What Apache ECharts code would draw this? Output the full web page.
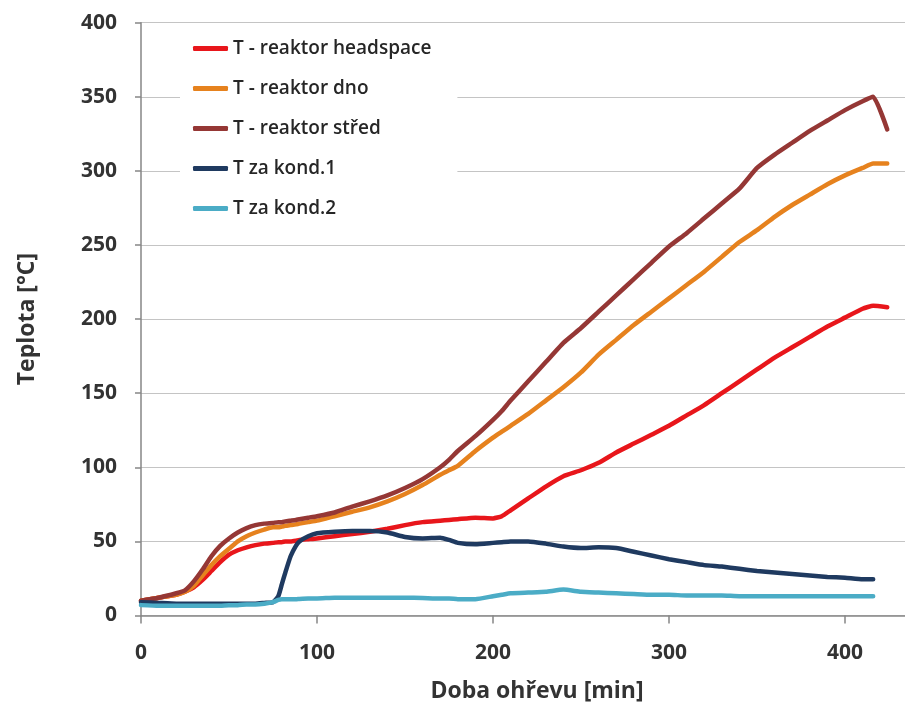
<!DOCTYPE html>
<html>
<head>
<meta charset="utf-8">
<script src="https://cdn.jsdelivr.net/npm/echarts@6/dist/echarts.min.js"></script>
<style>
  html, body { margin: 0; padding: 0; background: #fff; overflow: hidden; width: 905px; height: 712px; }
  #chart { width: 933px; height: 712px; }
</style>
</head>
<body>
<div id="chart"></div>
<script>
// Time axis (min)
const time = [0,10,20,25,30,35,40,45,50,55, 60,65,70,75,78,80,82,85,88,90, 95,100,110,120,130,140,150,160,170,175, 180,190,200,205,210,220,230,240,250,260, 270,280,290,300,310,320,330,340,350,360, 370,380,390,400,410,416,424];

const seriesNames = ['T - reaktor headspace', 'T - reaktor dno', 'T - reaktor střed', 'T za kond.1', 'T za kond.2'];

const headspace = [10,12,14,16,19,24,30,36,41,44, 46,47.5,48.5,49,49.5,49.5,50,50,50.5,51, 51.5,52,53.5,55,56.5,58.5,61,63,64,64.5, 65,66,65.5,67,71,79,87,94,98,103, 110,116,122,128,135,142,150,158,166,174, 181,188,195,201,207,209,208];

const dno = [10,12,14,16,20,27,34,40,45,50, 53.5,56,58,59.5,59.5,60,60.5,61,61.5,62, 63,64,67,70,73,77,82,88,95,98, 101,111,120,124,128,136,145,154,164,176, 186,196,205,214,223,232,242,252,260,269, 277,284,291,297,302,305,305];

const stred = [10,12,15,17,23,31,40,47,52,56, 59,61,62,62.5,63,63,63.5,64,64.5,65, 66,67,69.5,73.5,77,81,86,92,100,105, 111,121,132,138,145,158,171,184,194,205, 216,227,238,249,258,268,278,288,302,311, 319,327,334,341,347,350,328];

const kond1 = [9,8.5,8,8,8,8,8,8,8,8, 8,8,8.5,9,13,21,29,40,47,50, 53.5,55.5,56.5,57,57,56,53,52,52.5,51, 49,48,49,49.5,50,50,48.5,46.5,45.5,46, 45.5,43,40.5,38,36,34,33,31.5,30,29, 28,27,26,25.5,24.5,24.5,null];

const kond2 = [7,6.5,6.5,6.5,6.5,6.5,6.5,6.5,7,7, 7.5,7.5,8,9,10.5,11,11,11,11,11.2, 11.5,11.5,12,12,12,12,12,11.8,11.5,11.5, 11,11,13,14,15,15.5,16,17.5,16,15.5, 15,14.5,14,14,13.5,13.5,13.5,13,13,13, 13,13,13,13,13,13,null];

const xTicks = [0, 100, 200, 300, 400];
const yTicks = [0, 50, 100, 150, 200, 250, 300, 350, 400];

const colors = ['#E8161B', '#E6821E', '#953735', '#1F3A60', '#4BACC6'];
const allValues = [headspace, dno, stred, kond1, kond2];

function pairs(vals) {
  const out = [];
  for (let i = 0; i < time.length; i++) {
    if (vals[i] !== null && vals[i] !== undefined) out.push([time[i], vals[i]]);
  }
  return out;
}

const font = '"Open Sans", "DejaVu Sans", sans-serif';
const chart = echarts.init(document.getElementById('chart'), null, { renderer: 'canvas' });

chart.setOption({
  animation: false,
  backgroundColor: '#ffffff',
  grid: { left: 141, top: 22.7, right: 0, bottom: 96.5, containLabel: false },
  legend: {
    orient: 'vertical',
    left: 180,
    top: 29,
    backgroundColor: '#ffffff',
    padding: [10, 26, 10, 13],
    itemGap: 21,
    itemWidth: 35,
    itemHeight: 5,
    textStyle: { fontFamily: font, fontWeight: 600, fontSize: 19, color: '#262626' },
    data: seriesNames.map(n => ({ name: n, icon: 'roundRect' }))
  },
  xAxis: {
    type: 'value',
    min: 0,
    max: 450,
    interval: 100,
    name: 'Doba ohřevu [min]',
    nameLocation: 'middle',
    nameGap: 64,
    nameTextStyle: { fontFamily: font, fontWeight: 'bold', fontSize: 23, color: '#333333' },
    axisLine: { show: true, lineStyle: { color: '#868686', width: 1.5 } },
    axisTick: { show: true, inside: false, length: 8, lineStyle: { color: '#868686', width: 1.5 } },
    axisLabel: {
      margin: 27, fontFamily: font, fontWeight: 'bold', fontSize: 21, color: '#333333',
      showMaxLabel: false,
      formatter: v => (xTicks.indexOf(v) >= 0 ? String(v) : '')
    },
    splitLine: { show: false }
  },
  yAxis: {
    type: 'value',
    min: 0,
    max: 400,
    interval: 50,
    name: 'Teplota [°C]',
    nameLocation: 'middle',
    nameGap: 102,
    nameTextStyle: { fontFamily: font, fontWeight: 'bold', fontSize: 23, color: '#333333' },
    axisLine: { show: true, lineStyle: { color: '#868686', width: 1.5 } },
    axisTick: { show: true, inside: false, length: 6, lineStyle: { color: '#868686', width: 1.5 } },
    axisLabel: {
      margin: 24, fontFamily: font, fontWeight: 'bold', fontSize: 21, color: '#333333',
      formatter: v => (yTicks.indexOf(v) >= 0 ? String(v) : '')
    },
    splitLine: { show: true, lineStyle: { color: '#c4c4c4', width: 1.2 } }
  },
  series: seriesNames.map((n, i) => ({
    name: n,
    type: 'line',
    data: pairs(allValues[i]),
    showSymbol: false,
    smooth: 0.15,
    color: colors[i],
    lineStyle: { color: colors[i], width: 4.5, cap: 'round', join: 'round' },
    z: 2 + i
  }))
});
</script>
</body>
</html>
